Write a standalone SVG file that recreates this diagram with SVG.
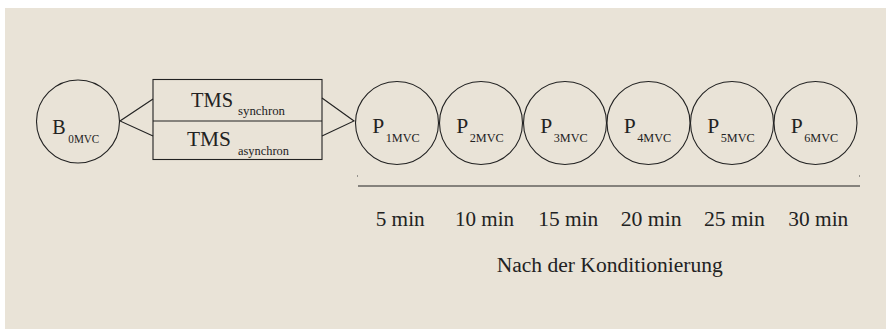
<svg xmlns="http://www.w3.org/2000/svg" width="886" height="329" viewBox="0 0 886 329">
  <style>
    .node { fill: none; stroke: #222; stroke-width: 1.1; }
    .conn { fill: none; stroke: #222; stroke-width: 1.1; }
    text { fill: #222; }
    .main { font-size: 21px; }
    .sub { font-size: 11.5px; }
    .lbl { font-size: 20.5px; }
  </style>
  <rect x="0" y="0" width="886" height="329" fill="#ffffff"/>
  <rect x="5" y="8" width="881" height="321" fill="#E9E3D7"/>

  <g font-family="Liberation Serif, Times New Roman, Tinos, DejaVu Serif, serif">
  <!-- baseline node -->
  <g id="b0">
    <circle class="node" cx="78" cy="121.5" r="41.5"/>
    <text class="main" x="52.3" y="134" textLength="13.4" lengthAdjust="spacingAndGlyphs">B</text>
    <text class="sub" x="68.3" y="143.3" textLength="31" lengthAdjust="spacingAndGlyphs">0MVC</text>
  </g>

  <!-- stimulation block -->
  <g id="tms">
    <rect class="node" x="153" y="79.5" width="169" height="80"/>
    <line class="node" x1="153" y1="121" x2="322" y2="121"/>
    <text class="main" x="191" y="107" textLength="42" lengthAdjust="spacingAndGlyphs">TMS</text>
    <text class="sub" x="238" y="115" textLength="47" lengthAdjust="spacingAndGlyphs">synchron</text>
    <text class="main" x="187" y="146" textLength="44" lengthAdjust="spacingAndGlyphs">TMS</text>
    <text class="sub" x="238" y="155" textLength="51" lengthAdjust="spacingAndGlyphs">asynchron</text>
  </g>

  <!-- connectors -->
  <g id="connectors">
    <polyline class="conn" points="153,99 120,121 153,136"/>
    <polyline class="conn" points="322,98 354,121 322,136"/>
  </g>

  <!-- post-conditioning nodes -->
  <g id="p1">
    <circle class="node" cx="397" cy="123" r="41.5"/>
    <text class="main" x="372.3" y="133.3" textLength="12" lengthAdjust="spacingAndGlyphs">P</text>
    <text class="sub" x="385.7" y="142.3" textLength="34" lengthAdjust="spacingAndGlyphs">1MVC</text>
  </g>
  <g id="p2">
    <circle class="node" cx="481" cy="123" r="41.5"/>
    <text class="main" x="456.3" y="133.3" textLength="12" lengthAdjust="spacingAndGlyphs">P</text>
    <text class="sub" x="469.7" y="142.3" textLength="34" lengthAdjust="spacingAndGlyphs">2MVC</text>
  </g>
  <g id="p3">
    <circle class="node" cx="565" cy="123" r="41.5"/>
    <text class="main" x="540.3" y="133.3" textLength="12" lengthAdjust="spacingAndGlyphs">P</text>
    <text class="sub" x="553.7" y="142.3" textLength="34" lengthAdjust="spacingAndGlyphs">3MVC</text>
  </g>
  <g id="p4">
    <circle class="node" cx="648.5" cy="123" r="41.5"/>
    <text class="main" x="623.8" y="133.3" textLength="12" lengthAdjust="spacingAndGlyphs">P</text>
    <text class="sub" x="637.2" y="142.3" textLength="34" lengthAdjust="spacingAndGlyphs">4MVC</text>
  </g>
  <g id="p5">
    <circle class="node" cx="732" cy="123" r="41.5"/>
    <text class="main" x="707.3" y="133.3" textLength="12" lengthAdjust="spacingAndGlyphs">P</text>
    <text class="sub" x="720.7" y="142.3" textLength="34" lengthAdjust="spacingAndGlyphs">5MVC</text>
  </g>
  <g id="p6">
    <circle class="node" cx="815.5" cy="123" r="41.5"/>
    <text class="main" x="790.8" y="133.3" textLength="12" lengthAdjust="spacingAndGlyphs">P</text>
    <text class="sub" x="804.2" y="142.3" textLength="34" lengthAdjust="spacingAndGlyphs">6MVC</text>
  </g>

  <!-- time axis -->
  <g id="axis">
    <line class="conn" x1="358" y1="186" x2="860" y2="186"/>
    <rect x="357" y="175.5" width="1" height="1" fill="#444"/>
    <rect x="859" y="175.5" width="1" height="1" fill="#444"/>
    <text class="lbl" x="375.7" y="226" textLength="49" lengthAdjust="spacingAndGlyphs">5 min</text>
    <text class="lbl" x="455" y="226" textLength="59" lengthAdjust="spacingAndGlyphs">10 min</text>
    <text class="lbl" x="538.3" y="226" textLength="60" lengthAdjust="spacingAndGlyphs">15 min</text>
    <text class="lbl" x="620.7" y="226" textLength="61" lengthAdjust="spacingAndGlyphs">20 min</text>
    <text class="lbl" x="704" y="226" textLength="61" lengthAdjust="spacingAndGlyphs">25 min</text>
    <text class="lbl" x="788.3" y="226" textLength="60" lengthAdjust="spacingAndGlyphs">30 min</text>
    <text class="lbl" x="496.7" y="271.7" textLength="226" lengthAdjust="spacingAndGlyphs">Nach der Konditionierung</text>
  </g>
  </g>
</svg>
